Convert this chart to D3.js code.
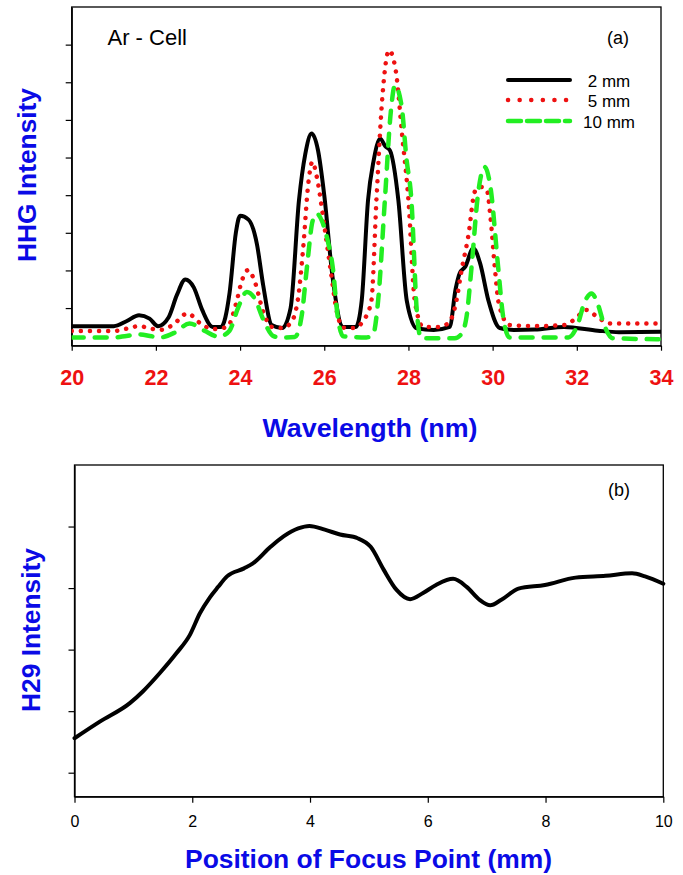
<!DOCTYPE html>
<html>
<head>
<meta charset="utf-8">
<script src="https://cdn.jsdelivr.net/npm/d3@7"></script>
<style>
  html, body { margin: 0; padding: 0; background: #fff; }
  svg { display: block; }
  text { font-family: "Liberation Sans", Arial, Helvetica, sans-serif; }
</style>
</head>
<body>
<svg id="chart" width="683" height="875"></svg>
<script>
// ---------- Panel (a) data ----------
const wavelengthTicks = [20, 22, 24, 26, 28, 30, 32, 34];
const intensityTicksA = [1, 2, 3, 4, 5, 6, 7, 8];
const seriesNames = ["2 mm", "5 mm", "10 mm"];

const wl2mm = [20, 20.5, 21.0, 21.3, 21.6, 21.85, 22.05, 22.3, 22.5, 22.7, 22.9, 23.1, 23.35, 23.55, 23.75, 23.9, 24.0, 24.2, 24.4, 24.55, 24.75, 25.0, 25.2, 25.4, 25.55, 25.7, 25.85, 26.0, 26.2, 26.45, 26.75, 26.89, 27.04, 27.17, 27.33, 27.45, 27.56, 27.76, 27.96, 28.2, 28.6, 28.98, 29.12, 29.22, 29.35, 29.54, 29.7, 29.9, 30.17, 30.5, 31.0, 31.7, 32.5, 33.0, 34];
const int2mm = [0.52, 0.52, 0.52, 0.65, 0.81, 0.72, 0.52, 0.75, 1.35, 1.76, 1.55, 0.95, 0.50, 0.50, 1.40, 3.00, 3.45, 3.35, 2.70, 1.60, 0.55, 0.47, 1.00, 3.87, 5.10, 5.64, 5.20, 4.00, 1.80, 0.50, 0.50, 1.20, 3.87, 4.90, 5.50, 5.30, 5.19, 3.87, 1.20, 0.46, 0.42, 0.50, 1.50, 1.93, 2.10, 2.59, 2.20, 1.20, 0.47, 0.42, 0.43, 0.50, 0.40, 0.36, 0.37];

const wl5mm = [20, 21.0, 21.3, 21.6, 21.9, 22.1, 22.4, 22.75, 23.05, 23.35, 23.7, 23.9, 24.05, 24.19, 24.35, 24.55, 24.75, 25.0, 25.2, 25.37, 25.5, 25.62, 25.72, 25.82, 26.0, 26.14, 26.3, 26.45, 26.7, 26.95, 27.12, 27.24, 27.38, 27.54, 27.7, 27.85, 28.0, 28.15, 28.35, 28.7, 28.95, 29.14, 29.25, 29.42, 29.58, 29.72, 29.86, 29.95, 30.05, 30.15, 30.4, 31.0, 31.7, 31.95, 32.23, 32.5, 32.8, 34];
const int5mm = [0.39, 0.39, 0.45, 0.52, 0.45, 0.42, 0.55, 0.86, 0.60, 0.44, 0.50, 1.10, 1.75, 2.01, 1.70, 0.90, 0.50, 0.47, 0.60, 1.20, 2.60, 4.30, 4.89, 4.50, 3.20, 2.10, 0.90, 0.48, 0.47, 0.70, 1.20, 3.87, 6.60, 7.85, 7.30, 5.60, 3.87, 1.20, 0.50, 0.50, 0.60, 1.20, 1.93, 2.90, 4.10, 4.22, 4.15, 3.40, 2.10, 1.10, 0.55, 0.52, 0.55, 0.70, 0.95, 0.75, 0.59, 0.59];

const wl10mm = [20, 21.0, 21.3, 21.6, 21.9, 22.1, 22.45, 22.8, 23.15, 23.5, 23.75, 23.95, 24.16, 24.35, 24.55, 24.8, 25.0, 25.3, 25.46, 25.59, 25.72, 25.82, 25.95, 26.08, 26.2, 26.32, 26.45, 27.0, 27.16, 27.28, 27.44, 27.58, 27.68, 27.84, 27.95, 28.07, 28.2, 28.3, 29.1, 29.25, 29.38, 29.5, 29.65, 29.81, 29.95, 30.13, 30.25, 30.4, 31.8, 32.0, 32.2, 32.35, 32.5, 32.65, 32.85, 34];
const int10mm = [0.22, 0.22, 0.26, 0.30, 0.25, 0.22, 0.35, 0.59, 0.40, 0.24, 0.40, 1.00, 1.43, 1.25, 0.70, 0.25, 0.22, 0.23, 0.77, 2.10, 3.30, 3.51, 3.30, 2.80, 2.10, 0.77, 0.25, 0.22, 0.30, 1.20, 3.87, 6.20, 6.92, 6.35, 5.00, 3.87, 0.90, 0.20, 0.20, 0.30, 0.77, 2.10, 4.00, 4.75, 4.20, 2.10, 0.77, 0.22, 0.22, 0.50, 1.20, 1.39, 1.10, 0.55, 0.20, 0.17];

// ---------- Panel (b) data ----------
const positionTicks = [0, 2, 4, 6, 8, 10];
const intensityTicksB = [1, 2, 3, 4, 5];
const focusPos = [0, 0.43, 0.94, 1.16, 1.45, 1.73, 1.96, 2.13, 2.30, 2.44, 2.59, 2.88, 3.03, 3.33, 3.55, 3.80, 3.99, 4.25, 4.51, 4.81, 5.03, 5.25, 5.47, 5.70, 5.92, 6.14, 6.43, 6.66, 6.88, 7.06, 7.25, 7.54, 7.99, 8.51, 9.02, 9.47, 9.69, 10];
const h29Int = [1.56, 1.83, 2.13, 2.32, 2.62, 2.94, 3.24, 3.59, 3.85, 4.02, 4.19, 4.32, 4.40, 4.67, 4.84, 4.97, 5.01, 4.95, 4.87, 4.81, 4.67, 4.30, 3.97, 3.82, 3.92, 4.05, 4.15, 4.02, 3.81, 3.72, 3.81, 3.99, 4.05, 4.17, 4.20, 4.24, 4.19, 4.07];

// ---------- Drawing ----------
const svg = d3.select("#chart");
const FONT = '"Liberation Sans", Arial, Helvetica, sans-serif';
const BLUE = "#0a0ae6";
const RED = "#ee1111";
const GREEN = "#22ee22";

// Panel (a)
const A = { left: 71.7, right: 661, top: 7, bottom: 345.7 };
const xA = d3.scaleLinear().domain([20, 34]).range([A.left, A.right]);
const yA = d3.scaleLinear().domain([0, 9]).range([A.bottom, A.top]);

const gA = svg.append("g");
gA.append("clipPath").attr("id", "clipA").append("rect")
  .attr("x", A.left).attr("y", A.top).attr("width", A.right - A.left).attr("height", A.bottom - A.top);

gA.append("rect").attr("x", A.left).attr("y", A.top)
  .attr("width", A.right - A.left).attr("height", A.bottom - A.top)
  .attr("fill", "none").attr("stroke", "#000").attr("stroke-width", 1.3);

const axA_x = gA.append("g").attr("transform", `translate(0,${A.bottom})`)
  .call(d3.axisBottom(xA).tickValues(wavelengthTicks).tickSize(5).tickSizeOuter(0).tickFormat(d3.format("d")));
axA_x.select(".domain").attr("stroke-width", 1.3);
axA_x.selectAll(".tick line").attr("stroke-width", 1.2);
axA_x.selectAll(".tick text").attr("fill", RED).attr("font-family", FONT)
  .attr("font-size", 21.5).attr("font-weight", "bold").attr("y", 0).attr("dy", 0)
  .attr("transform", "translate(0,39.3)");

const axA_y = gA.append("g").attr("transform", `translate(${A.left},0)`)
  .call(d3.axisLeft(yA).tickValues(intensityTicksA).tickSize(6).tickSizeOuter(0).tickFormat(""));
axA_y.select(".domain").attr("stroke-width", 1.3);
axA_y.selectAll(".tick line").attr("stroke-width", 1.2);

const lineA = d3.line().x(d => xA(d[0])).y(d => yA(d[1])).curve(d3.curveMonotoneX);
const seriesA = [
  { name: seriesNames[0], x: wl2mm, y: int2mm, color: "#000", width: 4, dash: null },
  { name: seriesNames[1], x: wl5mm, y: int5mm, color: RED, width: 4.5, dash: "0.1 9" },
  { name: seriesNames[2], x: wl10mm, y: int10mm, color: GREEN, width: 4.5, dash: "12 11" }
];
const plotA = gA.append("g").attr("clip-path", "url(#clipA)");
seriesA.forEach(s => {
  plotA.append("path")
    .datum(s.x.map((v, i) => [v, s.y[i]]))
    .attr("d", lineA)
    .attr("fill", "none")
    .attr("stroke", s.color)
    .attr("stroke-width", s.width)
    .attr("stroke-linecap", "round")
    .attr("stroke-linejoin", "round")
    .attr("stroke-dasharray", s.dash);
});

// legend
const legY = [80, 100, 121];
const legDash = [null, "0.1 11.5", "13 6"];
seriesA.forEach((s, i) => {
  gA.append("line").attr("x1", 508).attr("x2", 570).attr("y1", legY[i]).attr("y2", legY[i])
    .attr("stroke", s.color).attr("stroke-width", s.width).attr("stroke-linecap", "round")
    .attr("stroke-dasharray", legDash[i]);
  gA.append("text").attr("x", 609).attr("y", legY[i] + 6.5).attr("text-anchor", "middle")
    .attr("font-size", 17).attr("fill", "#000").text(s.name);
});

gA.append("text").attr("x", 107.5).attr("y", 45).attr("font-size", 22).text("Ar - Cell");
gA.append("text").attr("x", 607).attr("y", 44).attr("font-size", 18).text("(a)");

gA.append("text").attr("x", 370).attr("y", 437).attr("text-anchor", "middle")
  .attr("font-size", 25).attr("font-weight", "bold").attr("fill", BLUE)
  .attr("textLength", 215).attr("lengthAdjust", "spacingAndGlyphs")
  .text("Wavelength (nm)");
gA.append("text").attr("transform", "translate(35.5,175) rotate(-90)").attr("text-anchor", "middle")
  .attr("font-size", 25.5).attr("font-weight", "bold").attr("fill", BLUE)
  .attr("textLength", 174).attr("lengthAdjust", "spacingAndGlyphs")
  .text("HHG Intensity");

// Panel (b)
const B = { left: 74.5, right: 663.3, top: 465, bottom: 796.7 };
const xB = d3.scaleLinear().domain([0, 10]).range([B.left, B.right]);
const yB = d3.scaleLinear().domain([0.61, 6.0]).range([B.bottom, B.top]);
const gB = svg.append("g");
gB.append("rect").attr("x", B.left).attr("y", B.top)
  .attr("width", B.right - B.left).attr("height", B.bottom - B.top)
  .attr("fill", "none").attr("stroke", "#000").attr("stroke-width", 1.3);

const axB_x = gB.append("g").attr("transform", `translate(0,${B.bottom})`)
  .call(d3.axisBottom(xB).tickValues(positionTicks).tickSize(6).tickSizeOuter(0).tickFormat(d3.format("d")));
axB_x.select(".domain").attr("stroke-width", 1.3);
axB_x.selectAll(".tick line").attr("stroke-width", 1.2);
axB_x.selectAll(".tick text").attr("fill", "#000").attr("font-family", FONT)
  .attr("font-size", 16).attr("y", 0).attr("dy", 0).attr("transform", "translate(0,30)");

const axB_y = gB.append("g").attr("transform", `translate(${B.left},0)`)
  .call(d3.axisLeft(yB).tickValues(intensityTicksB).tickSize(6).tickSizeOuter(0).tickFormat(""));
axB_y.select(".domain").attr("stroke-width", 1.3);
axB_y.selectAll(".tick line").attr("stroke-width", 1.2);

const lineB = d3.line().x(d => xB(d[0])).y(d => yB(d[1])).curve(d3.curveMonotoneX);
gB.append("path")
  .datum(focusPos.map((v, i) => [v, h29Int[i]]))
  .attr("d", lineB).attr("fill", "none").attr("stroke", "#000")
  .attr("stroke-width", 4).attr("stroke-linecap", "round").attr("stroke-linejoin", "round");

gB.append("text").attr("x", 608).attr("y", 496).attr("font-size", 18).text("(b)");
gB.append("text").attr("x", 368.5).attr("y", 868).attr("text-anchor", "middle")
  .attr("font-size", 26).attr("font-weight", "bold").attr("fill", BLUE)
  .attr("textLength", 367).attr("lengthAdjust", "spacingAndGlyphs")
  .text("Position of Focus Point (mm)");
gB.append("text").attr("transform", "translate(40,630) rotate(-90)").attr("text-anchor", "middle")
  .attr("font-size", 26).attr("font-weight", "bold").attr("fill", BLUE)
  .attr("textLength", 164).attr("lengthAdjust", "spacingAndGlyphs")
  .text("H29 Intensity");
</script>
</body>
</html>
